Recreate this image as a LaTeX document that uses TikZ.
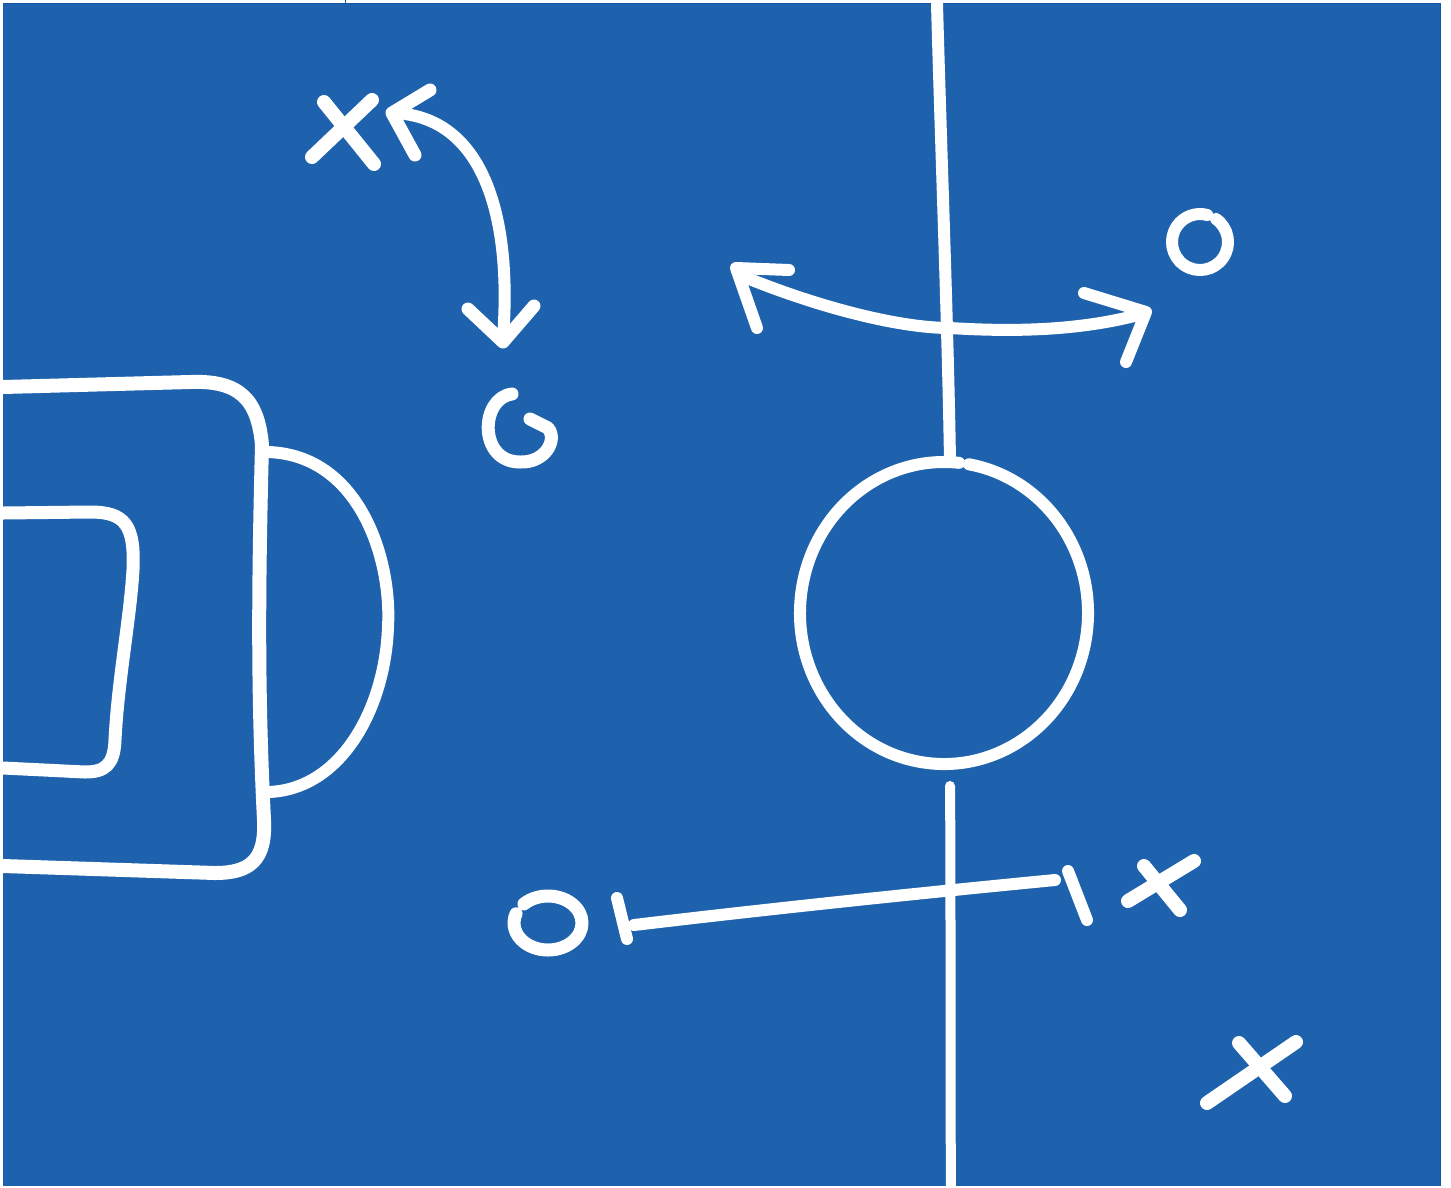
\documentclass[tikz,border=0pt]{standalone}
\definecolor{board}{RGB}{30,98,174}
\definecolor{boardedge}{RGB}{20,86,165}
\tikzset{
  chalk/.style={draw=white, line width=#1, line cap=round, line join=round},
  chalk/.default=12pt
}
\begin{document}
\begin{tikzpicture}[x=1pt,y=-1pt]
\useasboundingbox (0,0) rectangle (1451,1187);
\fill[white] (0,0) rectangle (1451,1187);
\fill[board] (3,3) rectangle (1440,1186);
\draw[boardedge, line width=1pt] (3,3) -- (1440,3) -- (1440,1186);
\draw[boardedge, line width=1pt] (345,0) -- (345,3);

% half-way line
\draw[chalk=12pt] (937,4) .. controls (941,150) and (948,330) .. (950,462);
\draw[chalk=10pt] (950,786) .. controls (951,900) and (950,1050) .. (951,1190);

% centre circle (small gap near the top)
\draw[chalk=12pt] (944,613) ++(-80:144 and 151) arc[start angle=-80, end angle=276, x radius=144, y radius=151];

% penalty area
\draw[chalk=14pt] (3,387) -- (190,382) .. controls (240,380) and (258,400) .. (262,445)
  .. controls (258,600) and (258,700) .. (264,820)
  .. controls (266,860) and (250,873) .. (215,873) -- (3,866);
% goal area
\draw[chalk=13pt] (3,513) -- (90,512) .. controls (125,512) and (135,525) .. (133,570)
  .. controls (130,620) and (118,680) .. (115,740)
  .. controls (114,765) and (105,772) .. (85,772) -- (3,768);
% penalty arc
\draw[chalk=12pt] (268,452) .. controls (360,455) and (392,560) .. (388,627)
  .. controls (385,710) and (340,790) .. (268,792);

% top-left X and curved arrow
\draw[chalk=14pt] (312,157) -- (372,100);
\draw[chalk=14pt] (324,102) -- (374,164);
\draw[chalk=13pt] (430,90) -- (392,113) -- (415,155);
\draw[chalk=12pt] (405,114) .. controls (485,125) and (512,220) .. (503,338);
\draw[chalk=13pt] (468,309) -- (503,342) -- (534,306);

% O below it
\draw[chalk=13pt] (512,394) .. controls (480,398) and (478,462) .. (520,462)
  .. controls (545,463) and (558,440) .. (548,428) -- (530,419);

% double arrow across the half-way line
\draw[chalk=12pt] (742,276) .. controls (820,308) and (900,328) .. (950,328)
  .. controls (1030,333) and (1090,328) .. (1142,314);
\draw[chalk=12pt] (789,270) -- (736,268) -- (757,328);
\draw[chalk=12pt] (1084,293) -- (1146,312) -- (1126,362);

% top-right O
\draw[chalk=12pt] (1200,242) ++(-55:28 and 28) arc[start angle=-55, end angle=285, x radius=28, y radius=28];

% bottom: O |----+----| X
\draw[chalk=13pt] (548,923) ++(225:34 and 27) arc[start angle=225, end angle=560, x radius=34, y radius=27];
\draw[chalk=12pt] (617,898) -- (627,939);
\draw[chalk=12pt] (634,925) .. controls (760,910) and (900,895) .. (1055,880);
\draw[chalk=12pt] (1068,871) -- (1087,920);
\draw[chalk=14pt] (1128,901) -- (1194,861);
\draw[chalk=14pt] (1144,866) -- (1180,910);

% bottom-right X
\draw[chalk=14pt] (1207,1103) -- (1296,1042);
\draw[chalk=14pt] (1239,1043) -- (1285,1096);
\end{tikzpicture}
\end{document}
